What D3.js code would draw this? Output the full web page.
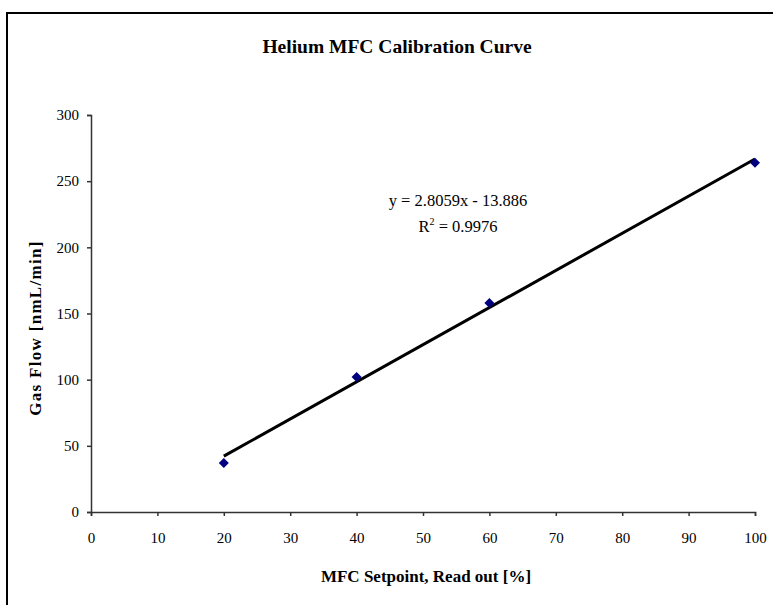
<!DOCTYPE html>
<html><head><meta charset="utf-8">
<script src="https://cdn.jsdelivr.net/npm/d3@7"></script>
<style>body{margin:0;background:#fff}svg{display:block}</style>
</head><body>
<script>
const setpoints = [20, 40, 60, 100];
const gasFlow = [37, 102, 158, 264];
const xTicks = [0,10,20,30,40,50,60,70,80,90,100];
const yTicks = [0,50,100,150,200,250,300];
const slope = 2.8059, intercept = -13.886;
const eqText = "y = 2.8059x - 13.886";
const r2Text = "0.9976";

const W = 773, H = 605;
const svg = d3.select("body").append("svg").attr("width", W).attr("height", H);
const font = "'Liberation Serif','Times New Roman',serif";

// outer frame
svg.append("rect").attr("x",7).attr("y",13).attr("width",W+10).attr("height",H+10)
  .attr("fill","none").attr("stroke","#000").attr("stroke-width",2);

const x = d3.scaleLinear().domain([0,100]).range([91,755]);
const y = d3.scaleLinear().domain([0,300]).range([512,115]);

const gx = svg.append("g").attr("transform","translate(0,512)")
  .call(d3.axisBottom(x).tickValues(xTicks).tickSize(4).tickPadding(16).tickSizeOuter(4));
const gy = svg.append("g").attr("transform","translate(91,0)")
  .call(d3.axisLeft(y).tickValues(yTicks).tickSize(4).tickPadding(8).tickSizeOuter(4));
[gx,gy].forEach(g=>{
  g.selectAll("path,line").attr("stroke","#333").attr("stroke-width",1.5);
  g.selectAll("text").attr("font-family",font).attr("font-size",15).attr("fill","#000");
});

// trendline
svg.append("line")
  .attr("x1",x(20)).attr("y1",y(slope*20+intercept))
  .attr("x2",x(100)).attr("y2",y(slope*100+intercept))
  .attr("stroke","#000").attr("stroke-width",3);

// markers
svg.selectAll("path.pt").data(setpoints.map((s,i)=>[s,gasFlow[i]])).enter()
  .append("path").attr("class","pt")
  .attr("d", d3.symbol().type(d3.symbolDiamond2).size(64))
  .attr("transform", d=>`translate(${x(d[0])},${y(d[1])})`)
  .attr("fill","#000080");

// title
svg.append("text").attr("x",397).attr("y",53).attr("text-anchor","middle")
  .attr("font-family",font).attr("font-weight","bold").attr("font-size",19.5)
  .text("Helium MFC Calibration Curve");

// axis labels
svg.append("text").attr("x",426).attr("y",582).attr("text-anchor","middle")
  .attr("font-family",font).attr("font-weight","bold").attr("font-size",17)
  .text("MFC Setpoint, Read out [%]");
svg.append("text").attr("transform","translate(41,328) rotate(-90)").attr("text-anchor","middle")
  .attr("font-family",font).attr("font-weight","bold").attr("font-size",17)
  .attr("letter-spacing",1.3)
  .text("Gas Flow [nmL/min]");

// equation
svg.append("text").attr("x",458).attr("y",206).attr("text-anchor","middle")
  .attr("font-family",font).attr("font-size",16.5).text(eqText);
const r = svg.append("text").attr("x",458).attr("y",232).attr("text-anchor","middle")
  .attr("font-family",font).attr("font-size",16.5);
r.append("tspan").text("R");
r.append("tspan").attr("dy",-7).attr("font-size",10).text("2");
r.append("tspan").attr("dy",7).text(" = " + r2Text);
</script>
</body></html>
